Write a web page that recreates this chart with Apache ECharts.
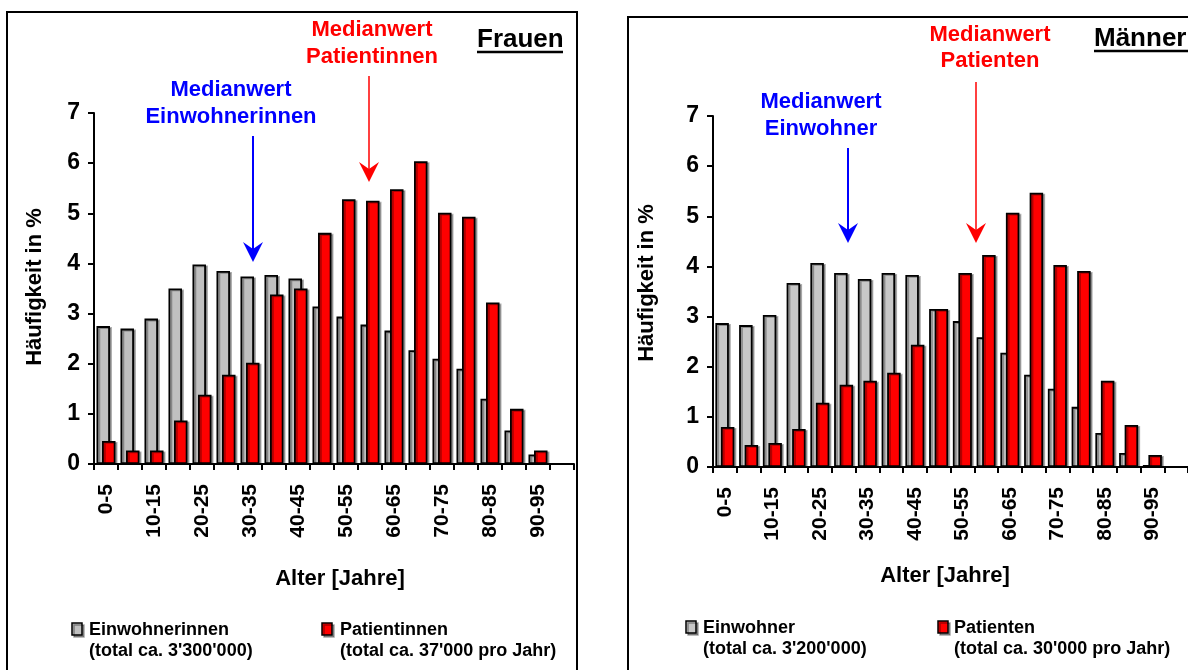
<!DOCTYPE html>
<html><head><meta charset="utf-8">
<script src="https://cdn.jsdelivr.net/npm/echarts@6/dist/echarts.min.js"></script>
<style>html,body{margin:0;padding:0;background:#fff}#c{width:1188px;height:670px}</style>
</head><body><div id="c"></div>
<script>
const categories = ['0-5','5-10','10-15','15-20','20-25','25-30','30-35','35-40','40-45','45-50',
  '50-55','55-60','60-65','65-70','70-75','75-80','80-85','85-90','90-95','95-100'];
const einwohnerinnen = [2.75,2.70,2.90,3.50,3.98,3.85,3.74,3.77,3.70,3.14,2.94,2.78,2.66,2.27,2.10,1.90,1.30,0.67,0.19];
const patientinnen   = [0.46,0.27,0.27,0.87,1.38,1.78,2.02,3.38,3.50,4.61,5.28,5.25,5.48,6.04,5.01,4.93,3.22,1.10,0.27];
const einwohner      = [2.87,2.83,3.03,3.67,4.07,3.87,3.75,3.87,3.83,3.15,2.91,2.59,2.28,1.84,1.56,1.20,0.68,0.28,0.04];
const patienten      = [0.80,0.44,0.48,0.76,1.28,1.64,1.72,1.88,2.44,3.15,3.87,4.23,5.07,5.47,4.03,3.91,1.72,0.84,0.24];
const yMin = 0, yMax = 7, yStep = 1;

const FONT = "'Liberation Sans', Arial, sans-serif";
const chart = echarts.init(document.getElementById('c'));

function xAxis(gi) {
  return {
    type: 'category', gridIndex: gi, data: categories, boundaryGap: true,
    axisLine: { lineStyle: { color: '#000', width: 2 } },
    axisTick: { show: true, interval: 0, alignWithLabel: false, length: 6, lineStyle: { color: '#000', width: 2 } },
    axisLabel: { interval: 1, rotate: 90, margin: 20, color: '#000', fontFamily: FONT, fontWeight: 'bold', fontSize: 21 },
    splitLine: { show: false }
  };
}
function yAxis(gi) {
  return {
    type: 'value', gridIndex: gi, min: yMin, max: yMax, interval: yStep,
    axisLine: { show: true, lineStyle: { color: '#000', width: 2 } },
    axisTick: { show: true, length: 6, lineStyle: { color: '#000', width: 2 } },
    axisLabel: { margin: 14, color: '#000', fontFamily: FONT, fontWeight: 'bold', fontSize: 23 },
    splitLine: { show: false }
  };
}
function bar(name, data, gi, color) {
  return {
    type: 'bar', name, data, xAxisIndex: gi, yAxisIndex: gi,
    barWidth: 13.5, barGap: '-59%',
    itemStyle: { color, borderColor: '#000', borderWidth: 1.8,
      shadowColor: 'rgba(0,0,0,0.3)', shadowOffsetX: 2, shadowOffsetY: 1, shadowBlur: 0 },
    emphasis: { disabled: true }, animation: false
  };
}
function txt(x, y, text, color, size, align, lh, rot) {
  return { type: 'text', x, y, rotation: rot || 0, style: { text, fill: color, font: 'bold ' + size + 'px ' + FONT,
    align: align || 'center', verticalAlign: 'middle', lineHeight: lh || size } };
}
function arrow(x, y0, tip, color, w) {
  return [
    { type: 'line', shape: { x1: x, y1: y0, x2: x, y2: tip - 8 }, style: { stroke: color, lineWidth: w } },
    { type: 'polygon', shape: { points: [[x, tip], [x - 10, tip - 20], [x, tip - 13], [x + 10, tip - 20]] }, style: { fill: color } }
  ];
}
function legendBox(x, y, color) {
  return { type: 'rect', shape: { x, y, width: 10, height: 12 },
    style: { fill: color, stroke: '#000', lineWidth: 1.5, shadowColor: 'rgba(0,0,0,0.35)', shadowOffsetX: 2, shadowOffsetY: 2 } };
}
function legendText(x, y, text) {
  return { type: 'text', x, y, style: { text, fill: '#000', font: 'bold 18px ' + FONT, lineHeight: 21, align: 'left', verticalAlign: 'middle' } };
}

const graphics = [
  { type: 'rect', shape: { x: 7, y: 12, width: 570, height: 700 }, style: { fill: 'none', stroke: '#000', lineWidth: 2 } },
  { type: 'rect', shape: { x: 628, y: 17, width: 600, height: 700 }, style: { fill: 'none', stroke: '#000', lineWidth: 2 } },
  txt(477, 40, 'Frauen', '#000', 26, 'left'),
  { type: 'line', shape: { x1: 477, y1: 52, x2: 563, y2: 52 }, style: { stroke: '#000', lineWidth: 2.5 } },
  txt(1094, 39, 'Männer', '#000', 26, 'left'),
  { type: 'line', shape: { x1: 1094, y1: 51, x2: 1190, y2: 51 }, style: { stroke: '#000', lineWidth: 2.5 } },
  txt(372, 43.5, 'Medianwert\nPatientinnen', '#ff0000', 22, 'center', 27),
  txt(231, 103.5, 'Medianwert\nEinwohnerinnen', '#0000ff', 22, 'center', 27),
  txt(990, 48, 'Medianwert\nPatienten', '#ff0000', 22, 'center', 26),
  txt(821, 115.5, 'Medianwert\nEinwohner', '#0000ff', 22, 'center', 27),
  ...arrow(369, 76, 182, '#ff0000', 1.5),
  ...arrow(253, 136, 262, '#0000ff', 2),
  ...arrow(976, 82, 243, '#ff0000', 1.5),
  ...arrow(848, 148, 243, '#0000ff', 2),
  txt(35, 287, 'Häufigkeit in %', '#000', 22, 'center', 22, Math.PI / 2),
  txt(647, 283, 'Häufigkeit in %', '#000', 22, 'center', 22, Math.PI / 2),
  txt(340, 579, 'Alter [Jahre]', '#000', 22, 'center'),
  txt(945, 576, 'Alter [Jahre]', '#000', 22, 'center'),
  legendBox(72, 623, '#c0c0c0'),
  legendText(89, 640.5, "Einwohnerinnen\n(total ca. 3'300'000)"),
  legendBox(322, 623, '#ff0000'),
  legendText(340, 640.5, "Patientinnen\n(total ca. 37'000 pro Jahr)"),
  legendBox(686, 621, '#c8c8c8'),
  legendText(703, 638.5, "Einwohner\n(total ca. 3'200'000)"),
  legendBox(938, 621, '#ff0000'),
  legendText(954, 638.5, "Patienten\n(total ca. 30'000 pro Jahr)")
];

chart.setOption({
  animation: false,
  backgroundColor: '#fff',
  grid: [
    { left: 94, top: 113, width: 480, height: 351 },
    { left: 713, top: 116, width: 480, height: 351 }
  ],
  xAxis: [xAxis(0), xAxis(1)],
  yAxis: [yAxis(0), yAxis(1)],
  series: [
    bar('Einwohnerinnen', einwohnerinnen, 0, '#c0c0c0'),
    bar('Patientinnen', patientinnen, 0, '#ff0000'),
    bar('Einwohner', einwohner, 1, '#c8c8c8'),
    bar('Patienten', patienten, 1, '#ff0000')
  ],
  graphic: graphics
});
</script></body></html>
